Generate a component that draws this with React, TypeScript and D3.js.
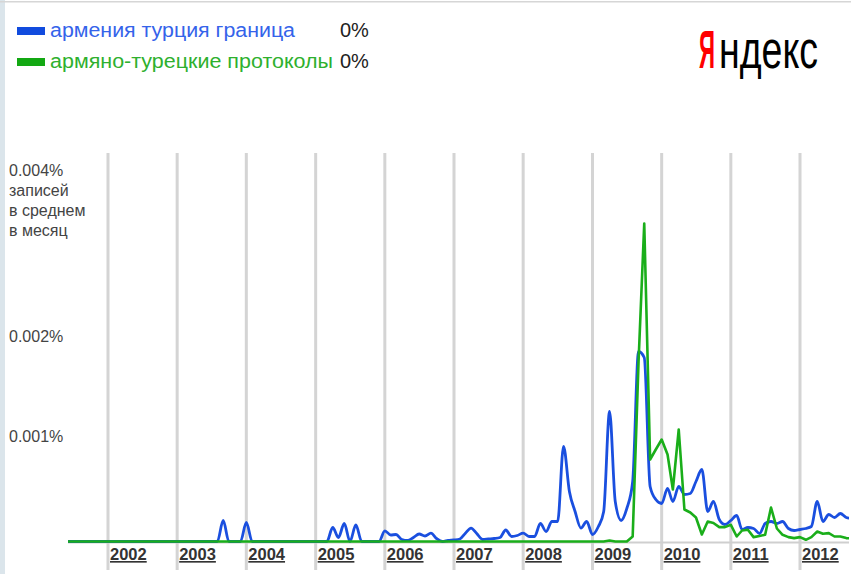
import React, { useLayoutEffect, useRef, useState } from "react";
import * as d3 from "d3";

// Monthly series, first month = June 2001; values in millionths of a percent (1000 = 0.001%)
const firstMonth = new Date(2001, 5, 1);

const blueValues = [
  0, 0, 0, 0, 0, 0, 0, // 2001 Jun-Dec
  0, 0, 0, 0, 0, 0, 0, 0, 0, 0, 0, 0, // 2002
  0, 0, 0, 0, 0, 0, 0, 0, 210, 0, 0, 0, // 2003
  190, 0, 0, 0, 0, 0, 0, 0, 0, 0, 0, 0, // 2004
  0, 0, 0, 140, 40, 180, 0, 165, 0, 0, 0, 0, // 2005
  107, 65, 70, 20, 10, 40, 75, 55, 83, 30, 0, 10, // 2006
  15, 25, 80, 134, 80, 20, 25, 30, 40, 115, 50, 60, // 2007
  84, 50, 50, 180, 100, 200, 200, 950, 500, 300, 134, 200, // 2008
  70, 150, 300, 1300, 400, 210, 330, 600, 1900, 1840, 550, 420, // 2009
  380, 530, 400, 550, 470, 480, 600, 720, 300, 400, 220, 170, // 2010
  210, 260, 120, 140, 130, 80, 180, 200, 180, 200, 130, 110, // 2011
  120, 130, 150, 400, 200, 270, 240, 280, 240, 230, // 2012
];

const greenValues = [
  0, 0, 0, 0, 0, 0, 0, // 2001 Jun-Dec
  0, 0, 0, 0, 0, 0, 0, 0, 0, 0, 0, 0, // 2002
  0, 0, 0, 0, 0, 0, 0, 0, 0, 0, 0, 0, // 2003
  0, 0, 0, 0, 0, 0, 0, 0, 0, 0, 0, 0, // 2004
  0, 0, 0, 0, 0, 0, 0, 0, 0, 0, 0, 0, // 2005
  0, 0, 0, 0, 0, 0, 0, 0, 0, 0, 0, 0, // 2006
  0, 0, 0, 0, 0, 0, 0, 0, 0, 0, 0, 0, // 2007
  0, 0, 0, 0, 0, 0, 0, 0, 0, 0, 0, 0, // 2008
  0, 0, 0, 10, 0, 0, 0, 50, 1800, 3180, 820, 920, // 2009
  1020, 870, 520, 1120, 320, 290, 240, 70, 200, 185, 144, 144, // 2010
  167, 50, 110, 117, 44, 55, 67, 340, 130, 67, 44, 34, // 2011
  44, 17, 44, 100, 77, 84, 50, 50, 34, 30, // 2012
];

const years = [2002, 2003, 2004, 2005, 2006, 2007, 2008, 2009, 2010, 2011, 2012];
const yTickValues = [1000, 2000];
const yTickLabels = ["0.001%", "0.002%"];
const yTopLabelLines = ["0.004%", "записей", "в среднем", "в месяц"];
const seriesNames = ["армения турция граница", "армяно-турецкие протоколы"];
const seriesShares = ["0%", "0%"];
const logoParts = ["Я", "ндекс"];

const FONT = "'Liberation Sans', Arial, sans-serif";

export default function App() {
  const W = 851;
  const H = 574;
  const left = 68;
  const right = 849;
  const top = 153;
  const x = d3
    .scaleTime()
    .domain([new Date(2002, 0, 1), new Date(2012, 0, 1)])
    .range([108, 800]);
  const y = d3.scaleLinear().domain([0, 4000]).range([541.5, 141.5]);

  const months = blueValues.map((_, i) => d3.timeMonth.offset(firstMonth, i));
  const blueLine = d3
    .line<number>()
    .x((_, i) => x(months[i]))
    .y((d) => y(d))
    .curve(d3.curveMonotoneX);
  const greenLine = d3
    .line<number>()
    .x((_, i) => x(months[i]))
    .y((d) => y(d))
    .curve(d3.curveLinear);

  const blueColor = "#1a4fdf";
  const greenColor = "#1aae1a";
  const legendText = ["#3463ea", "#2eb02e"];
  const legendSwatch = ["#114bde", "#13a813"];

  // logo: condensed via horizontal scale measured at runtime
  const yaRef = useRef<SVGTextElement>(null);
  const restRef = useRef<SVGTextElement>(null);
  const [scales, setScales] = useState<[number, number]>([0.42, 0.72]);
  useLayoutEffect(() => {
    const a = yaRef.current?.getComputedTextLength() || 38;
    const b = restRef.current?.getComputedTextLength() || 138;
    setScales([16 / a, 99 / b]);
  }, []);

  return (
    <svg
      width={W}
      height={H}
      style={{ position: "absolute", left: 0, top: 0, background: "#fff" }}
      fontFamily={FONT}
    >
      <defs>
        <clipPath id="plotClip">
          <rect x={left} y={0} width={right - left} height={H} />
        </clipPath>
      </defs>
      <rect x={0} y={0} width={W} height={H} fill="#fff" />
      {/* frame */}
      <rect x={0} y={0} width={5} height={H} fill="#dbe5eb" />
      <rect x={0} y={1} width={W} height={1.5} fill="#d6d6d6" />

      {/* legend */}
      {seriesNames.map((name, i) => {
        const base = 37 + i * 31;
        return (
          <g key={name}>
            <rect x={17} y={base - 10} width={28} height={8} fill={legendSwatch[i]} />
            <text
              x={50}
              y={base}
              fontSize={20}
              fill={legendText[i]}
              textLength={i === 0 ? 245 : 283}
              lengthAdjust="spacingAndGlyphs"
            >
              {name}
            </text>
            <text x={340} y={base} fontSize={20} fill="#222">
              {seriesShares[i]}
            </text>
          </g>
        );
      })}

      {/* logo */}
      <g transform={`translate(699,68) scale(${scales[0]},1)`}>
        <text ref={yaRef} x={0} y={0} fontSize={53} fill="#ff0000" fontWeight="bold">
          {logoParts[0]}
        </text>
      </g>
      <g transform={`translate(719,68) scale(${scales[1]},1)`}>
        <text ref={restRef} x={0} y={0} fontSize={53} fill="#000">
          {logoParts[1]}
        </text>
      </g>

      {/* y labels */}
      {yTopLabelLines.map((t, i) => (
        <text key={t} x={9} y={175.5 + i * 20.2} fontSize={16} fill="#444">
          {t}
        </text>
      ))}
      {yTickValues.map((v, i) => (
        <text key={v} x={9} y={y(v) + 0.5} fontSize={16} fill="#444">
          {yTickLabels[i]}
        </text>
      ))}

      {/* vertical year grid */}
      {years.map((yr) => (
        <line
          key={yr}
          x1={x(new Date(yr, 0, 1))}
          x2={x(new Date(yr, 0, 1))}
          y1={top}
          y2={570}
          stroke="#d4d4d4"
          strokeWidth={3}
        />
      ))}
      {/* baseline */}
      <line x1={left} x2={right} y1={y(0) + 1} y2={y(0) + 1} stroke="#cfcfcf" strokeWidth={2} />

      {/* year labels */}
      {years.map((yr) => (
        <text
          key={"l" + yr}
          x={x(new Date(yr, 0, 1)) + 2}
          y={560}
          fontSize={16.5}
          fontWeight="bold"
          fill="#333"
          textDecoration="underline"
        >
          {yr}
        </text>
      ))}

      <g clipPath="url(#plotClip)">
        <path
          d={blueLine(blueValues) || ""}
          fill="none"
          stroke={blueColor}
          strokeWidth={2.8}
          strokeLinejoin="round"
        />
        <path
          d={greenLine(greenValues) || ""}
          fill="none"
          stroke={greenColor}
          strokeWidth={2.6}
          strokeLinejoin="round"
        />
      </g>
    </svg>
  );
}
